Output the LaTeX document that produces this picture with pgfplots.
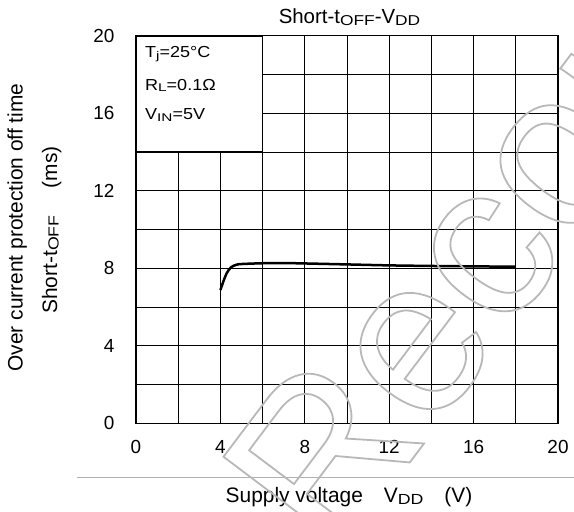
\documentclass[border=0pt]{standalone}
\usepackage{fontspec}
\setmainfont{Liberation Sans}
\usepackage{graphicx}
\usepackage{pgfplots}
\pgfplotsset{compat=1.18}
\newcommand\sub[1]{\raisebox{-0.08em}{\scalebox{0.85}[0.7]{#1}}}
\newcommand\fs[1]{\fontsize{#1}{#1}\selectfont}
\newcommand\outlinetext[1]{\special{pdf:literal direct 1 Tr 1.8 w 0.72 G}#1\special{pdf:literal direct 0 Tr 0 G}}
\begin{document}
\begin{tikzpicture}[x=1bp,y=1bp]
\useasboundingbox (0,0) rectangle (574,512);
\begin{axis}[
  at={(136bp,88.7bp)}, anchor=south west,
  scale only axis, width=422bp, height=387.5bp,
  xmin=0, xmax=20, ymin=0, ymax=20,
  xtick={0,4,...,20}, ytick={0,4,...,20},
  minor xtick={2,6,...,18}, minor ytick={2,6,...,18},
  grid=both,
  major grid style={black, line width=0.9bp},
  minor grid style={black, line width=0.9bp},
  axis line style={black, line width=1.2bp},
  major tick length=0pt, minor tick length=0pt,
  tick label style={font=\fs{19}},
  /pgf/number format/assume math mode=true,
  xticklabel style={anchor=center, yshift=-24bp},
  yticklabel style={anchor=east, xshift=-18bp},
  clip=false,
]
\addplot[black, line width=2.5bp, smooth] coordinates {
(4.0,6.88) (4.15,7.35) (4.3,7.75) (4.5,8.05) (4.75,8.18) (5.0,8.22)
(6.0,8.26) (7.0,8.27) (8.0,8.25) (10.0,8.2) (12.0,8.15) (14.0,8.12)
(16.0,8.1) (18.0,8.08)
};
\draw[black, line width=1.5bp, fill=white] (axis cs:0,14) rectangle (axis cs:6,20);
\end{axis}
% legend text
\node[anchor=base west, font=\fs{16}, inner sep=0pt] at (145,512-58) {\scalebox{1.13}[1]{T\sub{j}=25°C}};
\node[anchor=base west, font=\fs{16}, inner sep=0pt] at (145,512-90.7) {\scalebox{1.13}[1]{R\sub{L}=0.1Ω}};
\node[anchor=base west, font=\fs{16}, inner sep=0pt] at (145,512-120) {\scalebox{1.13}[1]{V\sub{IN}=5V}};
% title
\node[anchor=base, font=\fs{20.5}, inner sep=0pt] at (349.5,512-24) {Short-t\sub{OFF}-V\sub{DD}};
% x label
\draw[color={rgb,255:red,176;green,176;blue,176}, line width=1bp] (77,512-477.7) -- (574,512-477.7);
\node[anchor=base, font=\fs{21}, inner sep=0pt] at (349,512-503) {Supply voltage\hspace{1em}V\sub{DD}\hspace{1em}(V)};
% y label
\node[anchor=base, rotate=90, font=\fs{21}, inner sep=0pt] at (22.5,512-227.5) {Over current protection off time};
\node[anchor=base, rotate=90, font=\fs{21}, inner sep=0pt] at (57,512-230) {Short-t\sub{OFF}\hspace{1.3em}(ms)};
% watermark
\begin{scope}
\clip (0,0) rectangle (574,512);
\node[anchor=base west, rotate=53, font=\fs{222}, inner sep=0pt] at (334,512-563) {\outlinetext{Recommended}};
\end{scope}
\end{tikzpicture}
\end{document}
